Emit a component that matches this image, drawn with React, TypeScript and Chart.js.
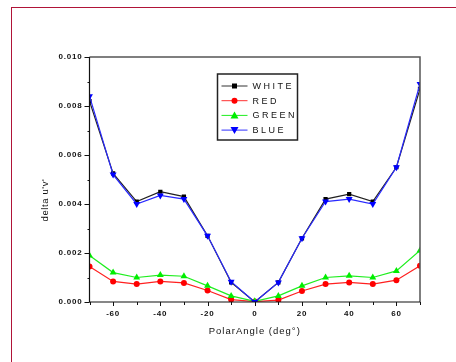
import React, { useEffect, useRef } from "react";
import { Chart, registerables } from "chart.js";

Chart.register(...registerables);

const angles = [-70, -60, -50, -40, -30, -20, -10, 0, 10, 20, 30, 40, 50, 60, 70];
const whiteVals = [0.0082, 0.00525, 0.0041, 0.0045, 0.0043, 0.0027, 0.0008, 0.0, 0.0008, 0.0026, 0.0042, 0.0044, 0.0041, 0.0055, 0.0087];
const redVals = [0.00145, 0.00084, 0.00073, 0.00084, 0.00078, 0.00047, 0.0001, 0.00002, 0.00008, 0.00045, 0.00073, 0.0008, 0.00073, 0.00089, 0.00148];
const greenVals = [0.0019, 0.0012, 0.001, 0.0011, 0.00105, 0.00066, 0.00025, 0.00003, 0.00025, 0.00066, 0.001, 0.00107, 0.001, 0.00127, 0.0021];
const blueVals = [0.0084, 0.0052, 0.004, 0.00435, 0.0042, 0.0027, 0.00083, 0.0, 0.0008, 0.0026, 0.0041, 0.0042, 0.004, 0.0055, 0.0089];

const seriesNames = ["WHITE", "RED", "GREEN", "BLUE"];
const xTitle = "PolarAngle (deg°)";
const yTitle = "delta u'v'";

const FONT = "'Liberation Sans', Arial, sans-serif";

function drawMarker(ctx: CanvasRenderingContext2D, kind: string, x: number, y: number, color: string) {
  ctx.fillStyle = color;
  ctx.beginPath();
  if (kind === "rect") {
    ctx.rect(x - 2.5, y - 2.5, 5, 5);
  } else if (kind === "circle") {
    ctx.arc(x, y, 3, 0, Math.PI * 2);
  } else if (kind === "triangle") {
    ctx.moveTo(x, y - 4);
    ctx.lineTo(x + 4, y + 3);
    ctx.lineTo(x - 4, y + 3);
    ctx.closePath();
  } else {
    ctx.moveTo(x, y + 4);
    ctx.lineTo(x + 4, y - 3);
    ctx.lineTo(x - 4, y - 3);
    ctx.closePath();
  }
  ctx.fill();
}

const legendItems = [
  { name: seriesNames[0], color: "#000000", line: "#333333", marker: "rect" },
  { name: seriesNames[1], color: "#ff0000", line: "#ff3030", marker: "circle" },
  { name: seriesNames[2], color: "#00ee00", line: "#20ee20", marker: "triangle" },
  { name: seriesNames[3], color: "#0000ff", line: "#3030ff", marker: "down" },
];

const decorPlugin = {
  id: "decor",
  beforeDraw(chart: any) {
    chart.ctx.letterSpacing = "0.8px";
  },
  afterDraw(chart: any) {
    const ctx: CanvasRenderingContext2D = chart.ctx;
    const { left, right, top, bottom } = chart.chartArea;
    const xs = chart.scales.x;
    const ys = chart.scales.y;
    ctx.save();
    ctx.letterSpacing = "0px";
    // box
    ctx.strokeStyle = "#555";
    ctx.lineWidth = 1.5;
    ctx.beginPath();
    ctx.moveTo(left, top);
    ctx.lineTo(right, top);
    ctx.lineTo(right, bottom);
    ctx.stroke();
    ctx.strokeStyle = "#111";
    ctx.lineWidth = 1.2;
    ctx.beginPath();
    ctx.moveTo(left, top);
    ctx.lineTo(left, bottom);
    ctx.lineTo(right, bottom);
    ctx.stroke();
    // ticks
    ctx.lineWidth = 1;
    ctx.beginPath();
    xs.ticks.forEach((t: any) => {
      const px = Math.round(xs.getPixelForValue(t.value)) + 0.5;
      const len = Math.round(t.value) % 20 === 0 ? 4 : 3;
      ctx.moveTo(px, bottom);
      ctx.lineTo(px, bottom + len);
    });
    ys.ticks.forEach((t: any) => {
      const py = Math.round(ys.getPixelForValue(t.value)) + 0.5;
      const len = Math.round(t.value * 1000) % 2 === 0 ? 5 : 2;
      ctx.moveTo(left, py);
      ctx.lineTo(left - len, py);
    });
    ctx.stroke();

    // axis titles
    ctx.fillStyle = "#111";
    ctx.font = `9.5px ${FONT}`;
    ctx.letterSpacing = "1px";
    ctx.textAlign = "center";
    ctx.textBaseline = "middle";
    ctx.fillText(xTitle, (left + right) / 2, 331);
    ctx.save();
    ctx.translate(45, 200);
    ctx.rotate(-Math.PI / 2);
    ctx.letterSpacing = "0.6px";
    ctx.fillText(yTitle, 0, 0);
    ctx.restore();

    // legend
    const bx = left + 128;
    const by = top + 17;
    const bw = 80;
    const bh = 66;
    ctx.fillStyle = "#fff";
    ctx.fillRect(bx, by, bw, bh);
    ctx.strokeStyle = "#222";
    ctx.lineWidth = 1.5;
    ctx.strokeRect(bx, by, bw, bh);
    ctx.font = `9px ${FONT}`;
    ctx.letterSpacing = "2.5px";
    ctx.textAlign = "left";
    ctx.textBaseline = "middle";
    legendItems.forEach((it, i) => {
      const y = by + 12 + i * 14.7;
      ctx.strokeStyle = it.line;
      ctx.lineWidth = 1;
      ctx.beginPath();
      ctx.moveTo(bx + 4, y);
      ctx.lineTo(bx + 30, y);
      ctx.stroke();
      drawMarker(ctx, it.marker, bx + 17, y, it.color);
      ctx.fillStyle = "#111";
      ctx.fillText(it.name, bx + 35, y + 0.5);
    });
    ctx.restore();
  },
};

function makeData(vals: number[]) {
  return angles.map((a, i) => ({ x: a, y: vals[i] }));
}

export default function App() {
  const ref = useRef<HTMLCanvasElement | null>(null);
  useEffect(() => {
    if (!ref.current) return;
    const chart = new Chart(ref.current, {
      type: "line",
      data: {
        datasets: [
          {
            label: seriesNames[3],
            data: makeData(blueVals),
            borderColor: "#2a2aff",
            backgroundColor: "#0000ff",
            borderWidth: 1.2,
            pointStyle: "triangle",
            rotation: 180,
            pointRadius: 4,
            pointBorderWidth: 0,
            order: 0,
          },
          {
            label: seriesNames[0],
            data: makeData(whiteVals),
            borderColor: "#222222",
            backgroundColor: "#000000",
            borderWidth: 1.2,
            pointStyle: "rect",
            pointRadius: 3,
            pointBorderWidth: 0,
            order: 1,
          },
          {
            label: seriesNames[2],
            data: makeData(greenVals),
            borderColor: "#20ee20",
            backgroundColor: "#00ee00",
            borderWidth: 1.2,
            pointStyle: "triangle",
            pointRadius: 4,
            pointBorderWidth: 0,
            order: 2,
          },
          {
            label: seriesNames[1],
            data: makeData(redVals),
            borderColor: "#ff2020",
            backgroundColor: "#ff0000",
            borderWidth: 1.2,
            pointStyle: "circle",
            pointRadius: 3,
            pointBorderWidth: 0,
            order: 3,
          },
        ],
      },
      options: {
        responsive: false,
        animation: false,
        devicePixelRatio: 1,
        layout: { padding: { left: 39, top: 57, right: 36, bottom: 26 } },
        plugins: { legend: { display: false }, tooltip: { enabled: false } },
        elements: { line: { tension: 0 } },
        scales: {
          x: {
            type: "linear",
            min: -70,
            max: 70,
            grid: { display: true, drawOnChartArea: false, drawTicks: true, tickLength: 5, color: "transparent" },
            border: { display: false },
            afterFit: (s: any) => {
              s.height = 34;
            },
            ticks: {
              stepSize: 10,
              autoSkip: false,
              maxRotation: 0,
              padding: 2,
              color: "#111",
              font: { family: FONT, size: 8, weight: "bold" },
              callback: (v: any) => (Math.round(Number(v)) % 20 === 0 ? String(Math.round(Number(v))) : ""),
            },
          },
          y: {
            type: "linear",
            min: 0,
            max: 0.01,
            grid: { display: true, drawOnChartArea: false, drawTicks: true, tickLength: 5, color: "transparent" },
            border: { display: false },
            afterFit: (s: any) => {
              s.width = 50.5;
            },
            ticks: {
              stepSize: 0.001,
              autoSkip: false,
              padding: 2,
              color: "#111",
              font: { family: FONT, size: 8, weight: "bold" },
              callback: (v: any) => {
                const k = Math.round(Number(v) * 1000);
                return k % 2 === 0 ? (k / 1000).toFixed(3) : "";
              },
            },
          },
        },
      },
      plugins: [decorPlugin],
    } as any);
    return () => chart.destroy();
  }, []);

  return (
    <div style={{ position: "fixed", left: 0, top: 0, width: 456, height: 362, background: "#fff", overflow: "hidden" }}>
      <div
        style={{
          position: "absolute",
          left: 11,
          top: 7,
          right: -10,
          bottom: -10,
          borderLeft: "1px solid #b01438",
          borderTop: "1px solid #b01438",
        }}
      />
      <canvas ref={ref} width={456} height={362} style={{ position: "absolute", left: 0, top: 0 }} />
    </div>
  );
}
